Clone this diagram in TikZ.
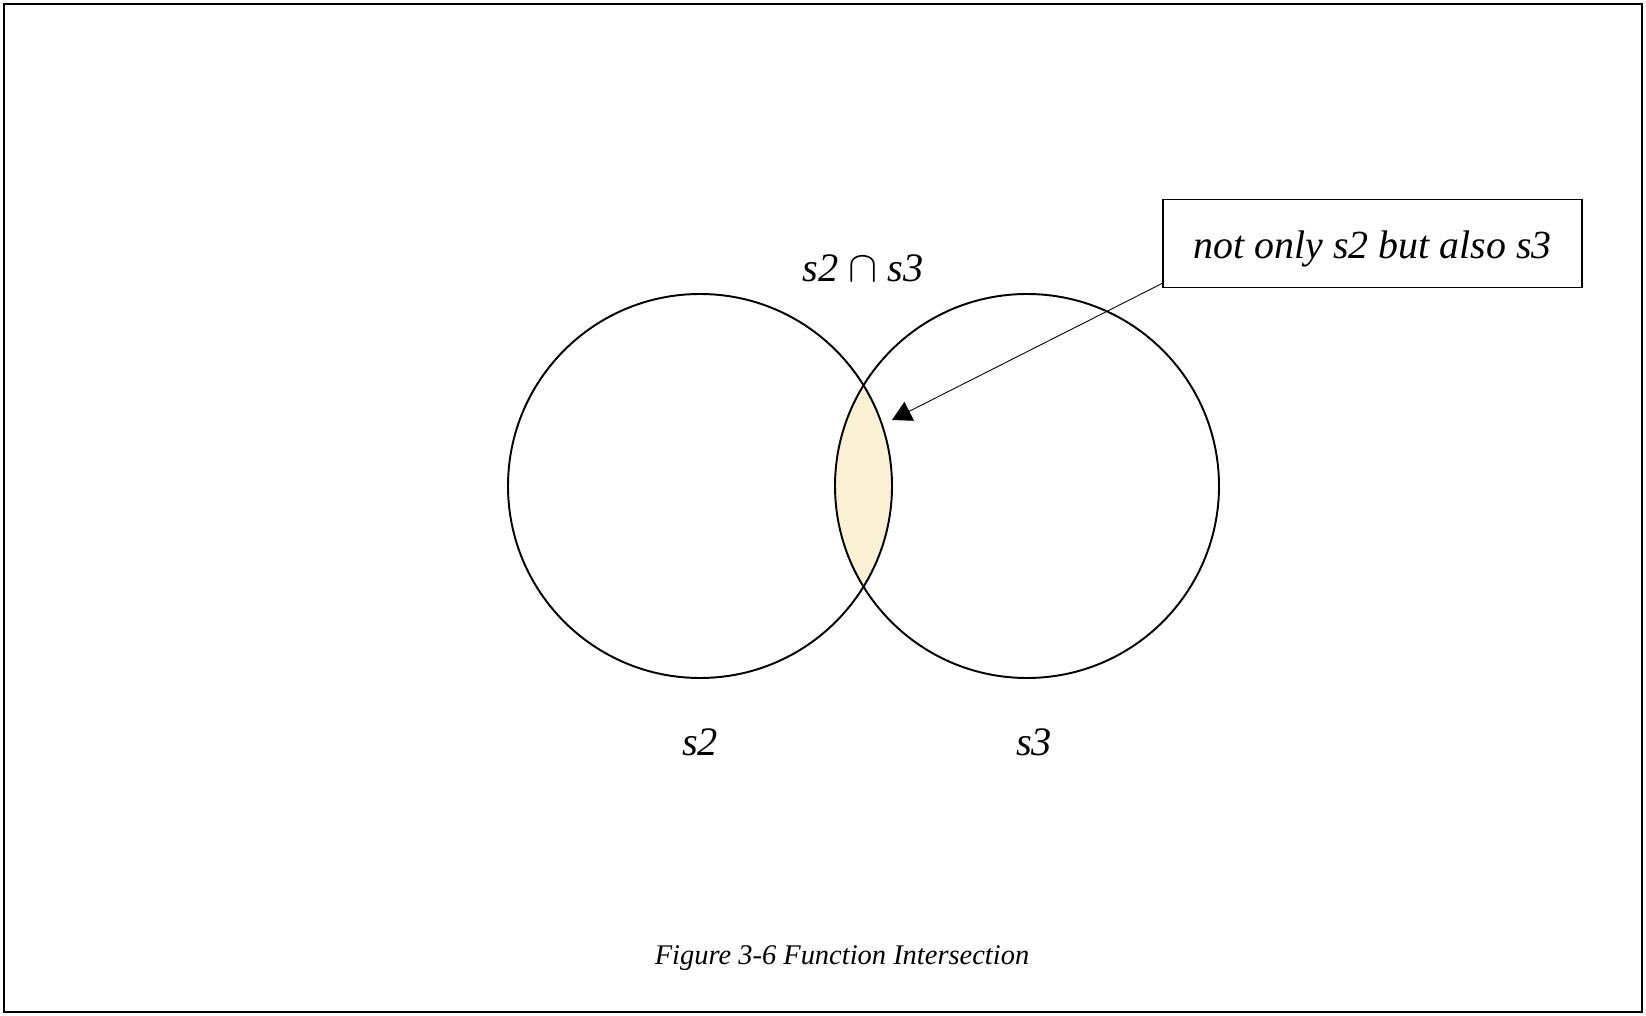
\documentclass[tikz,border=0pt]{standalone}
\usepackage{fontspec}
\setmainfont{Liberation Serif}
\usetikzlibrary{arrows.meta}
\definecolor{lens}{HTML}{FAF0D4}
\tikzset{
  venn/.style={draw=black, line width=1.1pt},
  lbl/.style={font=\itshape\fontsize{23}{28}\selectfont, inner sep=0pt},
  callout/.style={draw=black, line width=1.1pt, minimum width=419*0.02cm, minimum height=88*0.02cm, inner sep=0pt},
  calltext/.style={font=\itshape\fontsize{22.7}{28}\selectfont, inner sep=0pt},
  figcaption/.style={font=\itshape\fontsize{16.2}{20}\selectfont, inner sep=0pt},
}
\begin{document}
\begin{tikzpicture}[x=0.02cm, y=-0.02cm]
\useasboundingbox (0,0) rectangle (1646,1016);
\draw[line width=1.4pt] (4,4) rectangle (1642,1012);
% lens
\begin{scope}
  \clip (700,486) circle [radius=192];
  \fill[lens] (1027,486) circle [radius=192];
\end{scope}
\node[venn, circle, minimum size=384*0.02cm, inner sep=0pt] (s2c) at (700,486) {};
\node[venn, circle, minimum size=384*0.02cm, inner sep=0pt] (s3c) at (1027,486) {};
\node[lbl] (inter) at (863,268) {s2 $\cap$ s3};
\node[lbl] (s2) at (700,742) {s2};
\node[lbl] (s3) at (1034,742) {s3};
\node[callout] (box) at (1372.5,243.5) {};
\node[calltext] (boxtext) at (1372.5,249) {not only s2 but also s3};
\coordinate (tip) at (892,420);
\draw[line width=0.5pt, -{Triangle[width=12pt,length=11pt]}] ([yshift=0.1cm]box.south west) -- (tip);
\node[figcaption] (caption) at (842,958) {Figure 3-6 Function Intersection};
\end{tikzpicture}
\end{document}
